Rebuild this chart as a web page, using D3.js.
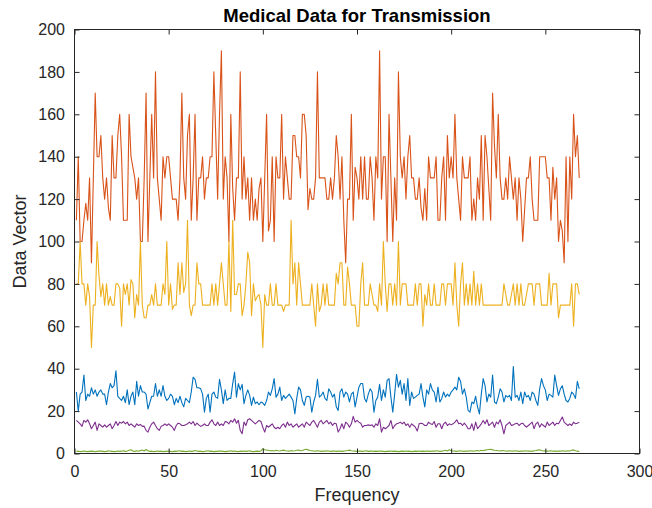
<!DOCTYPE html>
<html>
<head>
<meta charset="utf-8">
<script src="https://cdn.jsdelivr.net/npm/d3@7/dist/d3.min.js"></script>
<style>
  body { margin: 0; background: #fff; }
  text { font-family: "Liberation Sans", Arial, Helvetica, sans-serif; fill: #262626; }
</style>
</head>
<body>
<svg id="chart" width="652" height="508"></svg>
<script>
// tick values
var xTicks = [0, 50, 100, 150, 200, 250, 300];
var yTicks = [0, 20, 40, 60, 80, 100, 120, 140, 160, 180, 200];

// column 1 (blue)
var col1 = [
  29,20,28,29,37,25,28,27,31,28, 30,27,29,30,28,28,23,29,33,31,
  32,39,27,26,25,27,24,30,23,27, 29,23,34,27,32,29,29,28,21,24,
  27,27,33,27,30,27,32,27,25,26, 28,27,23,26,24,27,24,22,26,25,
  24,29,36,35,31,31,
  30.5,28,19.5,26,28,19.5,28,29,26.6,26, 35,30,23.5,30,25,26,26,33,38.4,26.6,
  33,30,32.6,23.5,27.4,30,27.4,22.7,26.6,23.5, 24.3,23,24.3,23.8,22.7,25,29,27.4,30.5,35.3,
  26.6,28,31.3,25,27.4,26,27,28,26.6,25, 18.7,26,31.3,30,25,22.7,26.6,27,26.6,19.5,
  24.3,27.4,35,26.6,27.4,29,26,25,30.5,29, 26.6,28,22,20.3,
  29,30.5,26.6,29,28,24.3,28,29,22,26.6, 31.3,33,33,26,24.3,28,30.5,29,19.5,25,
  26.6,32.6,25,30,26.6,34.5,35.3,26.6,19.5,28, 37.3,31.3,34.5,28,33,25,35.3,22.7,29,26,
  26.6,27.4,28,33,26.6,22,30,28,33,30, 29,24.3,31.3,24.3,26,29,26.6,28,27,29,
  30,31.3,30,36,34,28,30.5,26.6,20.3,
  19.5,24.3,23.5,27,22,18.7,28,35.3,32,24.3, 28,26.6,37,24.3,23.5,26.6,30.5,29,24.3,27.4,
  26.6,27.4,25,41,26.6,27.4,25,29,23.5,29, 26.6,27.4,25,29,28,25,22.7,30.5,35.3,32,
  30,25,28,27.4,26.6,37,32,27.4,30.5,32, 28,25,24.3,26,29,28,26,34,30.5
];

// column 2 (orange)
var col2 = [
  110,140,100,100,110,118,110,130,90,130, 170,140,140,150,130,120,130,116,110,150,
  130,130,150,160,140,110,110,110,160,140, 135,130,120,130,100,100,130,170,100,130,
  160,130,180,130,120,110,140,130,140,140, 130,120,120,120,110,130,170,130,120,150,
  160,110,130,160,110,130,130,140,120,130, 130,
  140,140,180,150,120,160,190,120,140,
  130,100,160,125,110,130,130,180,120,140, 120,130,110,130,110,120,110,125,130,100,
  130,160,105,110,140,100,140,130,130,160, 120,140,130,120,120,150,150,140,140,130,
  160,160,150,115,125,120,120,130,180,130, 130,130,130,120,120,130,120,130,150,140,
  120,140,110,90,120,120,160,110,135,130, 120,140,120,140,120,120,140,130,110,140,
  130,190,120,140,140,100,160,130,100,130, 110,180,140,130,140,120,140,150,130,130,
  120,120,130,116,110,125,110,140,130,130, 130,140,110,110,130,140,110,150,130,140,
  130,160,130,120,110,140,130,130,130,
  140,110,120,110,130,120,150,110,150,140,125,
  110,170,145,130,160,130,120,120,130,120, 140,130,120,130,110,130,120,100,115,130,
  130,140,120,110,110,110,140,140,140,140, 130,130,110,135,120,130,100,110,105,90,
  140,100,140,120,160,140,150,130
];

// column 3 (yellow)
var col3 = [
  80,80,100,80,80,70,80,74,50,70, 70,100,84,74,80,70,80,70,74,70,
  70,80,80,78,60,80,75,80,70,82, 80,64,75,70,100,70,64,64,70,70,
  75,70,80,70,70,70,80,75,100,70, 80,68,70,70,90,75,90,76,80,110,
  70,65,70,70,90,80,80,70,70,70,70,
  70,80,70,80,70,80,90,80,70,
  70,100,67,110,75,75,80,80,65,70, 80,95,90,65,80,72,74,75,70,50,
  75,70,70,80,70,70,80,70,70,70, 67,70,70,70,110,80,90,70,90,80,
  70,70,70,70,70,80,70,60,80,67, 70,80,70,80,70,70,70,70,85,80,
  90,90,70,70,88,80,70,70,70,60, 60,80,90,70,70,70,80,75,70,70,
  67,80,70,100,80,67,80,80,70,80, 70,100,70,80,80,80,70,70,70,70,
  80,70,80,80,60,75,70,80,70,70, 80,70,70,70,80,80,70,80,80,80,
  70,90,70,60,80,90,70,80,70,
  80,70,86,70,80,70,80,70,
  70,70,70,70,70,70,70,70,70,70,
  80,75,70,70,75,80,70,80,70,80,70,70,75,
  80,80,80,70,80,80,80,70,70,70, 70,85,70,80,80,80,64,70,70,70,
  70,70,70,80,60,80,80,75
];

// column 4 (purple)
var col4 = [
  15.6,14.8,14.0,12.8,15.6,14.8,15.9,14.0,11.7,13.2, 14.8,10.9,14.0,13.2,12.4,13.5,12.4,13.2,14.0,11.7,
  13.2,15.1,13.2,14.8,14.3,15.1,14.0,14.8,13.2,14.0, 13.2,12.4,14.0,13.2,13.7,12.8,12.9,10.9,10.1,12.4,
  14.0,14.8,13.2,11.7,10.9,12.8,13.2,14.0,13.2,14.0, 13.2,12.4,10.9,13.2,14.3,14.0,13.2,13.2,13.5,14.0,
  14.8,14.0,15.1,13.2,14.3,13.5,12.8,13.2,14.0,13.2, 13.2,
  14.8,15.9,14.0,13.2,14.8,13.2,14.0,13.2,15.1,14.8, 14.0,15.6,14.8,16.4,14.3,15.6,10.9,9.3,14.8,13.2,
  15.9,16.4,15.6,14.8,14.0,14.8,15.6,15.1,12.4,10.1, 13.2,12.4,13.2,14.0,12.4,11.7,12.4,11.7,13.2,14.0,
  12.4,14.8,13.2,14.0,12.4,13.2,14.0,12.4,13.2,14.0, 12.4,14.8,14.0,13.2,14.8,15.6,14.0,12.4,14.8,15.6,
  14.0,14.8,15.6,14.0,14.8,13.2,14.3,14.0,10.1,
  11.7,14.0,11.7,14.8,14.0, 12.4,14.0,17.5,14.8,15.6,14.8,14.3,12.4,13.2,13.2,
  13.5,13.2,13.5,12.4,14.0,13.2,16.4,10.1,12.4,11.7, 12.4,13.2,15.6,11.7,13.2,14.0,14.3,14.8,14.0,14.8,
  13.2,14.0,12.4,14.0,13.2,12.4,10.6,14.0,14.3,14.0, 13.2,13.2,14.8,14.0,13.7,15.1,12.4,14.0,14.0,11.7,
  14.0,14.8,13.2,14.0,13.5,14.0,14.8,15.9,14.0,14.3, 13.2,14.3,13.2,11.7,
  11.7,14.0,10.9,14.8,11.7, 12.8,14.0,15.6,14.0,15.9,13.2,14.0,14.8,12.4,14.8,
  14.0,15.9,13.2,9.3,13.2,14.0,14.8,13.2,13.5,14.0, 14.3,13.2,14.0,14.3,13.2,12.4,13.2,14.0,14.8,11.7,
  14.0,14.8,12.4,14.0,13.2,12.4,14.8,13.2,14.0,14.8, 13.2,14.3,14.0,15.6,17.2,14.8,14.0,13.2,14.0,13.2,
  14.8,14.0,14.3,14.8
];

// column 5 (green)
var col5 = [
  1.0,1.1,0.9,1.0,1.2,1.0,0.9,1.0,1.1,1.0,0.8,1.0,1.2,1.1,1.0,0.9,1.0,1.3,1.1,1.0,
  0.9,1.0,1.2,1.0,1.1,1.3,1.0,1.2,1.5,1.8,1.2,1.0,1.3,1.1,1.4,1.6,1.2,1.9,1.3,1.0,
  1.1,0.9,1.0,1.2,1.0,1.1,0.9,1.0,1.0,1.2,1.0,0.9,1.1,1.0,1.2,1.3,1.0,1.1,0.9,1.0,
  1.2,1.0,1.1,1.4,1.2,1.0,1.1,0.9,1.0,1.2,1.3,1.0,1.1,0.9,1.0,1.0,1.2,1.1,1.0,0.9,
  1.0,1.1,1.3,1.0,1.2,1.0,0.9,1.1,1.0,1.2,1.0,1.1,1.3,1.0,0.9,1.0,1.1,1.0,1.2,2.3,
  1.8,1.6,1.5,1.3,1.4,1.2,1.5,1.3,1.2,1.4,1.6,1.3,1.2,1.1,1.4,1.2,1.3,1.5,1.6,1.3,
  1.4,1.8,2.0,1.7,1.4,1.3,1.2,1.1,1.3,1.2,1.0,1.2,1.1,1.3,1.2,1.0,1.1,1.2,1.0,1.1,
  1.2,1.0,1.1,1.3,1.4,1.6,1.3,1.2,1.1,1.0,1.2,1.1,1.0,1.2,1.3,1.0,1.1,1.2,1.0,1.1,
  1.0,1.2,1.1,1.0,0.9,1.1,1.0,1.2,1.0,1.1,1.0,0.9,1.0,1.1,1.0,1.2,1.0,1.1,0.9,1.0,
  1.1,1.0,1.2,1.0,1.1,1.0,1.2,1.1,1.0,1.2,1.1,1.3,1.2,1.0,1.1,1.3,1.5,1.2,1.8,1.3,
  1.2,1.1,1.0,1.2,1.3,1.1,1.0,1.2,1.1,1.3,1.2,1.1,1.3,1.4,1.2,1.5,1.3,1.6,1.8,1.9,
  2.0,1.7,1.5,1.4,1.3,1.2,1.4,1.3,1.2,1.1,1.3,1.2,1.1,1.3,1.2,1.0,1.2,1.1,1.3,1.2,
  1.1,1.2,1.0,1.3,1.4,1.6,1.8,1.4,1.2,1.3,1.1,1.2,1.3,1.1,1.2,1.0,1.2,1.1,1.3,1.2,
  1.1,1.3,1.2,1.5,1.7,1.3,1.1,1.0
];

var columns = [col1, col2, col3, col4, col5];
// MATLAB default line order
var lineColors = ["#0072BD", "#D95319", "#EDB120", "#7E2F8E", "#77AC30"];

var margin = { top: 29.5, right: 12.5, bottom: 54.5, left: 74.5 },
    W = 652, H = 508;

var svg = d3.select("#chart");

var x = d3.scaleLinear().domain([0, 300]).range([margin.left, W - margin.right]);
var y = d3.scaleLinear().domain([0, 200]).range([H - margin.bottom, margin.top]);

//Linee
var line = d3.line()
    .x((d, i) => x(i + 1))
    .y(d => y(d));

svg.append("g")
    .selectAll("path")
    .data(columns)
    .enter()
    .append("path")
    .attr("d", line)
    .attr("fill", "none")
    .attr("stroke", (d, i) => lineColors[i])
    .attr("stroke-width", 1.1)
    .attr("stroke-linejoin", "round");

//Assi (tick verso l'interno)
var tickFont = "16px";

svg.append("g")
    .attr("transform", `translate(0,${y(0)})`)
    .style("font-size", tickFont)
    .call(d3.axisBottom(x).tickValues(xTicks).tickSizeInner(-5).tickSizeOuter(0).tickPadding(12.5))
    .call(g => g.select(".domain").remove());

svg.append("g")
    .attr("transform", `translate(${x(0)},0)`)
    .style("font-size", tickFont)
    .call(d3.axisLeft(y).tickValues(yTicks).tickSizeInner(-5).tickSizeOuter(0).tickPadding(9.5))
    .call(g => g.select(".domain").remove());

svg.append("g")
    .attr("transform", `translate(0,${y(200)})`)
    .call(d3.axisTop(x).tickValues(xTicks).tickSizeInner(-5).tickSizeOuter(0).tickFormat(""))
    .call(g => g.select(".domain").remove());

svg.append("g")
    .attr("transform", `translate(${x(300)},0)`)
    .call(d3.axisRight(y).tickValues(yTicks).tickSizeInner(-5).tickSizeOuter(0).tickFormat(""))
    .call(g => g.select(".domain").remove());

svg.selectAll(".tick line").attr("stroke", "#262626");
svg.selectAll(".tick text").attr("fill", "#262626");

// box
svg.append("rect")
    .attr("x", x(0))
    .attr("y", y(200))
    .attr("width", x(300) - x(0))
    .attr("height", y(0) - y(200))
    .attr("fill", "none")
    .attr("stroke", "#262626")
    .attr("stroke-width", 1);

//Titolo ed etichette
svg.append("text")
    .attr("x", (x(0) + x(300)) / 2)
    .attr("y", 21.5)
    .attr("text-anchor", "middle")
    .style("font-size", "18.5px")
    .style("font-weight", "bold")
    .style("fill", "#000")
    .text("Medical Data for Transmission");

svg.append("text")
    .attr("x", (x(0) + x(300)) / 2)
    .attr("y", 500.5)
    .attr("text-anchor", "middle")
    .style("font-size", "18px")
    .text("Frequency");

svg.append("text")
    .attr("transform", `translate(26,${(y(0) + y(200)) / 2}) rotate(-90)`)
    .attr("text-anchor", "middle")
    .style("font-size", "18px")
    .text("Data Vector");
</script>
</body>
</html>
